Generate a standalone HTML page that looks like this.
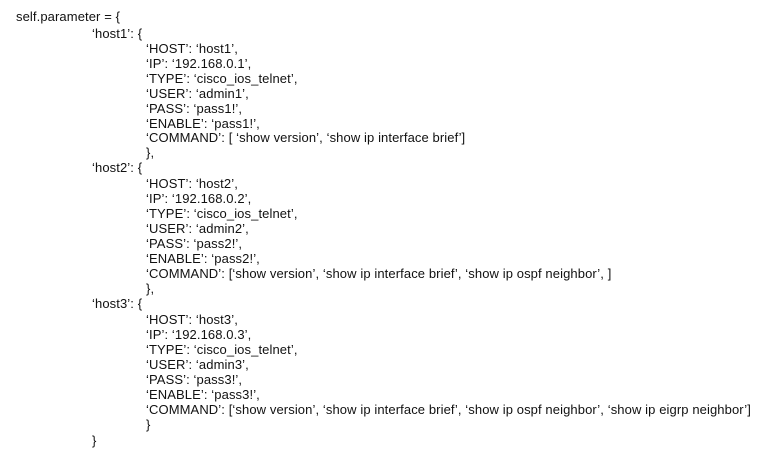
<!DOCTYPE html>
<html><head><meta charset="utf-8"><style>
body{margin:0;width:778px;height:465px;background:#fff;position:relative;overflow:hidden;font-family:"Liberation Sans","Noto Sans CJK JP",sans-serif;font-size:13px;letter-spacing:0.1px;color:#111}
div{position:absolute;white-space:pre;line-height:15px}
.a{left:16px}.b{left:92px}.c{left:146px}
</style></head><body>
<div class="a" style="top:9px">self.parameter = {</div>
<div class="b" style="top:26px">‘host1’: {</div>
<div class="c" style="top:41px">‘HOST’: ‘host1’,</div>
<div class="c" style="top:56px">‘IP’: ‘192.168.0.1’,</div>
<div class="c" style="top:71px">‘TYPE’: ‘cisco_ios_telnet’,</div>
<div class="c" style="top:86px">‘USER’: ‘admin1’,</div>
<div class="c" style="top:101px">‘PASS’: ‘pass1!’,</div>
<div class="c" style="top:116px">‘ENABLE’: ‘pass1!’,</div>
<div class="c" style="top:130px">‘COMMAND’: [ ‘show version’, ‘show ip interface brief’]</div>
<div class="c" style="top:145px">},</div>
<div class="b" style="top:160px">‘host2’: {</div>
<div class="c" style="top:176px">‘HOST’: ‘host2’,</div>
<div class="c" style="top:191px">‘IP’: ‘192.168.0.2’,</div>
<div class="c" style="top:206px">‘TYPE’: ‘cisco_ios_telnet’,</div>
<div class="c" style="top:221px">‘USER’: ‘admin2’,</div>
<div class="c" style="top:236px">‘PASS’: ‘pass2!’,</div>
<div class="c" style="top:251px">‘ENABLE’: ‘pass2!’,</div>
<div class="c" style="top:266px">‘COMMAND’: [‘show version’, ‘show ip interface brief’, ‘show ip ospf neighbor’, ]</div>
<div class="c" style="top:281px">},</div>
<div class="b" style="top:296px">‘host3’: {</div>
<div class="c" style="top:312px">‘HOST’: ‘host3’,</div>
<div class="c" style="top:327px">‘IP’: ‘192.168.0.3’,</div>
<div class="c" style="top:342px">‘TYPE’: ‘cisco_ios_telnet’,</div>
<div class="c" style="top:357px">‘USER’: ‘admin3’,</div>
<div class="c" style="top:372px">‘PASS’: ‘pass3!’,</div>
<div class="c" style="top:387px">‘ENABLE’: ‘pass3!’,</div>
<div class="c" style="top:402px">‘COMMAND’: [‘show version’, ‘show ip interface brief’, ‘show ip ospf neighbor’, ‘show ip eigrp neighbor’]</div>
<div class="c" style="top:417px">}</div>
<div class="b" style="top:433px">}</div>
</body></html>
